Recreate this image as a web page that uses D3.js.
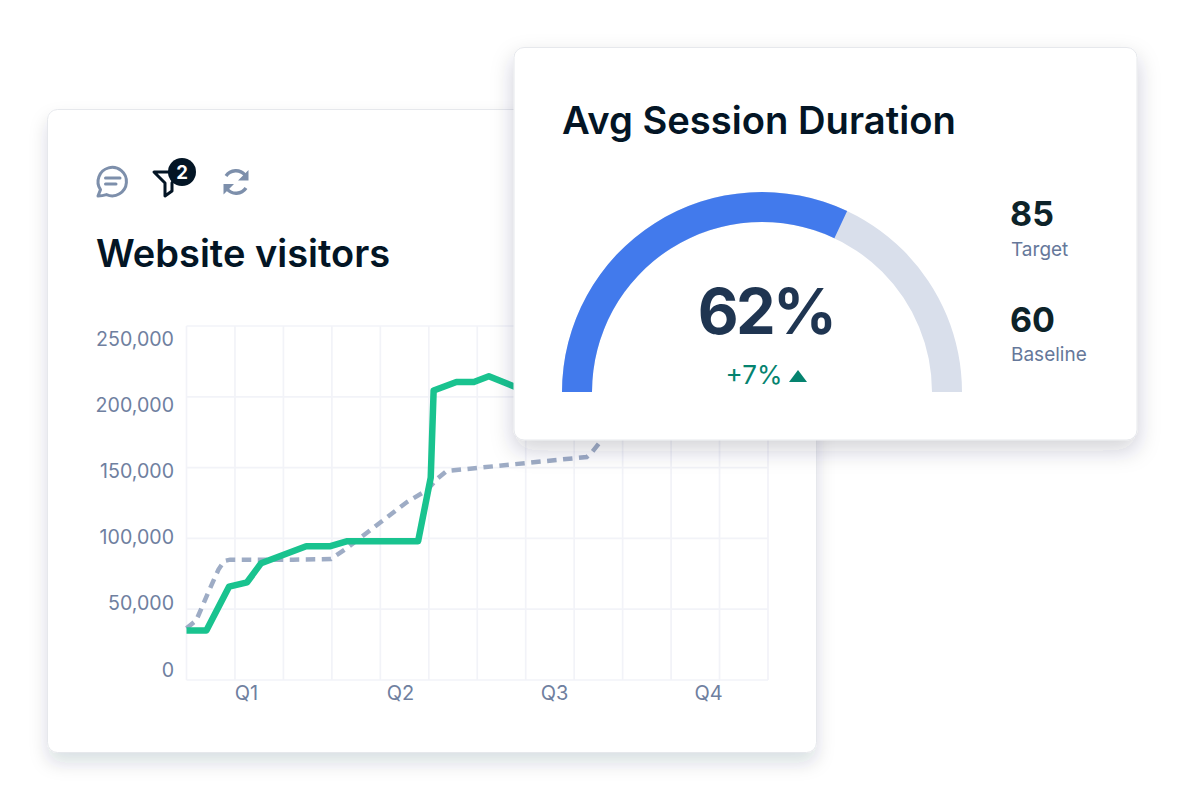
<!DOCTYPE html>
<html><head><meta charset="utf-8">
<script src="https://cdn.jsdelivr.net/npm/d3@7/dist/d3.min.js"></script>
<style>
html,body{margin:0;padding:0;background:#fff;width:1184px;height:800px;overflow:hidden}
svg{position:absolute;left:0;top:0}
text{font-family:Inter,sans-serif;font-optical-sizing:none;font-variation-settings:"opsz" 14}
</style></head><body>
<svg id="c" width="1184" height="800"></svg>
<script>
const yTickValues=[0,50000,100000,150000,200000,250000];
const monthTicks=[0,1,2,3,4,5,6,7,8,9,10,11,12];
const quarters=["Q1","Q2","Q3","Q4"];
// month position, visitors
const visitorsMonth=[0,0.41,0.88,1.25,1.54,2.47,2.97,3.32,4.78,5.04,5.10,5.57,5.93,6.24,6.75,7.0];
const visitorsValue=[35000,35000,66000,69000,82500,94500,94500,98000,98000,143000,204500,210500,210500,214500,207500,204000];
const baselineMonth=[0,0.2,0.45,0.66,0.78,0.9,2.2,2.98,3.31,4.55,4.96,5.17,5.37,8.26,8.37,8.57,9.05];
const baselineValue=[36500,42000,62000,78000,84000,85000,85000,85400,93200,125700,134000,142000,147600,157500,161000,169500,190000];
const gaugeMax=[100];
const gaugeFill=[64];
const headline="62%", delta="+7%";
const sideValues=["85","60"], sideLabels=["Target","Baseline"];

const svg=d3.select("#c");
const defs=svg.append("defs");
function shadow(id,blur,dy,op){
  const f=defs.append("filter").attr("id",id).attr("x","-10%").attr("y","-10%").attr("width","120%").attr("height","125%");
  f.append("feDropShadow").attr("dx",0).attr("dy",dy).attr("stdDeviation",blur).attr("flood-color","#1a2b45").attr("flood-opacity",op);
}
shadow("s1",9,10,0.15);
shadow("s2",11,10,0.2);

function card(x,y,w,h,f){
  svg.append("rect").attr("x",x).attr("y",y).attr("width",w).attr("height",h).attr("rx",10)
    .attr("fill","#fff").attr("stroke","#e6e8ec").attr("stroke-width",1).attr("filter",`url(#${f})`);
}
card(47.5,109.5,769,643,"s1");

const x=d3.scaleLinear().domain([0,12]).range([186.5,768]);
const y=d3.scaleLinear().domain([0,250000]).range([680,326]);
const yLabel=d3.scaleLinear().domain([0,250000]).range([669,338]);
const qx=d3.scalePoint().domain(quarters).range([246,708]);

const grid=svg.append("g").attr("stroke","#f2f3f8").attr("stroke-width",1.7);
grid.selectAll(".v").data(monthTicks).join("line").attr("x1",d=>x(d)).attr("x2",d=>x(d)).attr("y1",y(250000)).attr("y2",y(0));
grid.selectAll(".h").data(yTickValues).join("line").attr("y1",d=>y(d)).attr("y2",d=>y(d)).attr("x1",x(0)).attr("x2",x(12));

const yAxis=d3.axisLeft(yLabel).tickValues(yTickValues).tickFormat(d3.format(",")).tickSize(0).tickPadding(12.5);
const yg=svg.append("g").attr("transform",`translate(${x(0)},0)`).call(yAxis);
yg.select(".domain").remove();
yg.selectAll("text").attr("font-size",19.6).attr("fill","#6f809f").attr("font-family","Inter,sans-serif").attr("dy","0.36em");
const xAxis=d3.axisBottom(qx).tickSize(0).tickPadding(6);
const xg=svg.append("g").attr("transform",`translate(0,${y(0)})`).call(xAxis);
xg.select(".domain").remove();
xg.selectAll("text").attr("font-size",20).attr("fill","#6f809f").attr("font-family","Inter,sans-serif");

const line=d3.line().x(d=>x(d[0])).y(d=>y(d[1]));
svg.append("path").datum(d3.zip(baselineMonth,baselineValue)).attr("d",line).attr("fill","none")
  .attr("stroke","#9eacc5").attr("stroke-width",4.5).attr("stroke-dasharray","9.5 6.5");
svg.append("path").datum(d3.zip(visitorsMonth,visitorsValue)).attr("d",line).attr("fill","none")
  .attr("stroke","#19c38f").attr("stroke-width",6.5).attr("stroke-linejoin","round");

// toolbar icons
const grey="#7d8fab", ink="#031525";
const ic=svg.append("g");
ic.append("path").attr("d","M98 196 L100.5 189.6 A14.2 14.2 0 1 1 106.5 194.6 C103.5 195.6 101 196 98 196 Z")
  .attr("fill","none").attr("stroke",grey).attr("stroke-width",3).attr("stroke-linejoin","round");
ic.append("path").attr("d","M105.5 178H120 M105.5 184H116").attr("stroke",grey).attr("stroke-width",3).attr("stroke-linecap","round");
ic.append("path").attr("d","M154 172 H178 L172 183 V191 L165 196 V183 Z").attr("fill","none").attr("stroke",ink).attr("stroke-width",3).attr("stroke-linejoin","round");
ic.append("circle").attr("cx",182).attr("cy",172).attr("r",14).attr("fill",ink);
ic.append("text").attr("x",182).attr("y",178.5).attr("text-anchor","middle").attr("font-size",18.5).attr("font-weight",700).attr("fill","#fff").text("2");
ic.append("path").attr("d","M226 176 A12 12 0 0 1 245 175 M246 188 A12 12 0 0 1 227 189").attr("fill","none").attr("stroke",grey).attr("stroke-width",3.4);
ic.append("path").attr("d","M248.5 170 V180.5 H238 Z M223.5 194.5 V184 H234 Z").attr("fill",grey);

svg.append("text").attr("x",96).attr("y",267).attr("font-size",38).attr("font-weight",600).attr("fill",ink).text("Website visitors");

// top card
card(514,47.5,623,392.5,"s2");
svg.append("text").attr("x",562).attr("y",134).attr("font-size",38.2).attr("font-weight",600).attr("fill",ink).text("Avg Session Duration");

const ang=d3.scaleLinear().domain([0,gaugeMax[0]]).range([-Math.PI/2,Math.PI/2]);
const arc=d3.arc().innerRadius(170).outerRadius(200);
const g=svg.append("g").attr("transform","translate(762,392)");
g.append("path").attr("d",arc({startAngle:ang(0),endAngle:ang(gaugeMax[0])})).attr("fill","#d9dfeb");
g.append("path").attr("d",arc({startAngle:ang(0),endAngle:ang(gaugeFill[0])})).attr("fill","#427aec");
g.append("text").attr("x",4).attr("y",-58).attr("text-anchor","middle").attr("font-size",63).attr("font-weight",700).attr("letter-spacing",-2.7).attr("fill","#1f3551").text(headline);
g.append("text").attr("x",-8).attr("y",-8).attr("text-anchor","middle").attr("font-size",26).attr("fill","#05836f").text(delta);
g.append("path").attr("d","M27 -10 L36 -22 L45 -10 Z").attr("fill","#05836f");

const side=svg.append("g");
side.selectAll(".v").data(sideValues).join("text").attr("x",1010).attr("y",(d,i)=>226+i*106).attr("font-size",34).attr("font-weight",700).attr("fill","#0d2329").text(d=>d);
side.selectAll(".l").data(sideLabels).join("text").attr("x",1011).attr("y",(d,i)=>256+i*105).attr("font-size",19).attr("fill","#66789a").text(d=>d);
</script>
</body></html>
